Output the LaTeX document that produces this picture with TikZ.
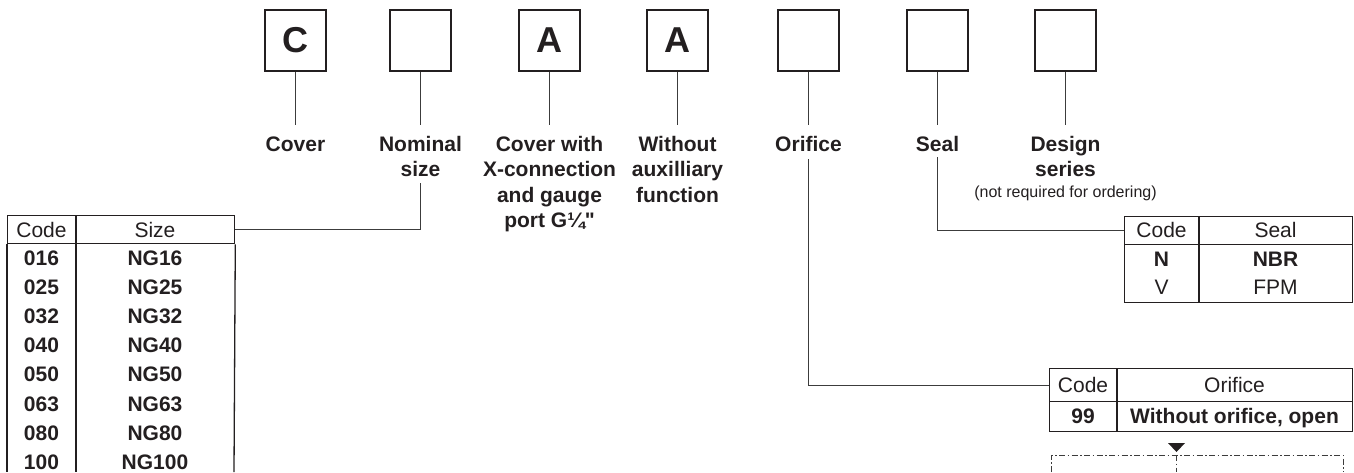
\documentclass[tikz,border=0pt]{standalone}
\usepackage{fontspec}
\setmainfont{Liberation Sans}[Ligatures=TeXOff]
\definecolor{ink}{HTML}{231F20}
\definecolor{wire}{HTML}{3C3C3C}
\begin{document}
\begin{tikzpicture}[x=1pt,y=-1pt,
  codebox/.style={draw=ink, line width=1.5pt, minimum width=61pt, minimum height=61pt, inner sep=0pt, text=ink, font=\fontsize{36}{36}\selectfont\bfseries},
  lbl/.style={font=\fontsize{21}{25.5}\selectfont\bfseries, align=center, anchor=north, inner sep=0pt, text=ink},
  note/.style={font=\fontsize{16}{18}\selectfont, anchor=base, inner sep=0pt, text=ink},
  conn/.style={draw=wire, line width=1.3pt},
  tabline/.style={draw=ink, line width=1.3pt},
  hdr/.style={draw=ink, line width=1.3pt, anchor=north west, inner sep=0pt},
  cell/.style={font=\fontsize{21}{25}\selectfont, inner sep=0pt, anchor=base, text=ink},
  bcell/.style={cell, font=\fontsize{21}{25}\selectfont\bfseries},
  dd/.style={draw=wire, line width=1pt, dash pattern=on 6pt off 2.5pt on 1.5pt off 2.5pt}]
\useasboundingbox (0,0) rectangle (1354,472);

% code boxes
\node[codebox] (b1) at (295.5,40.5) {C};
\node[codebox] (b2) at (420.5,40.5) {};
\node[codebox] (b3) at (549.5,40.5) {A};
\node[codebox] (b4) at (677.5,40.5) {A};
\node[codebox] (b5) at (808.5,40.5) {};
\node[codebox] (b6) at (937.5,40.5) {};
\node[codebox] (b7) at (1065.5,40.5) {};

% labels (top = first baseline 151 minus strut height 17.85)
\node[lbl] (l1) at (295.5,133.15) {\strut Cover};
\node[lbl] (l2) at (420.5,133.15) {\strut Nominal\\size};
\node[lbl] (l3) at (549.5,133.15) {\strut Cover with\\X-connection\\and gauge\\port G¼"};
\node[lbl] (l4) at (677.5,133.15) {\strut Without\\auxilliary\\function};
\node[lbl] (l5) at (808.5,133.15) {\strut Orifice};
\node[lbl] (l6) at (937.5,133.15) {\strut Seal};
\node[lbl] (l7) at (1065.5,133.15) {\strut Design\\series};
\node[note] (l7n) at (1065.5,197) {(not required for ordering)};

% short connectors box -> label
\foreach \i/\x in {1/295.5,2/420.5,3/549.5,4/677.5,5/808.5,6/937.5,7/1065.5}{
  \coordinate (t\i) at (\x,125);
  \draw[conn] (b\i.south) -- (t\i);
}

% size table
\node[hdr, minimum width=227pt, minimum height=28pt] (sizehd) at (7,215) {};
\draw[tabline] (sizehd.south west) -- (7,472);
\draw[tabline] (sizehd.south east) -- (234,472);
\draw[tabline] (76,215) -- (76,472);
\node[cell] (sc0) at (41.5,237) {Code};
\node[cell] (ss0) at (155,237) {Size};
\foreach \k/\c/\s in {0/016/NG16,1/025/NG25,2/032/NG32,3/040/NG40,4/050/NG50,5/063/NG63,6/080/NG80,7/100/NG100}{
  \node[bcell] (sc\c) at (41.5,265.5+29.1*\k) {\c};
  \node[bcell] (ss\c) at (155,265.5+29.1*\k) {\s};
}

% seal table
\node[hdr, minimum width=228pt, minimum height=28pt] (sealhd) at (1124,216) {};
\node[hdr, minimum width=228pt, minimum height=86pt] (sealtab) at (1124,216) {};
\draw[tabline] (1199,216) -- (1199,302);
\node[cell] (ec0) at (1161.5,237.5) {Code};
\node[cell] (es0) at (1275.5,237.5) {Seal};
\node[bcell] (ec1) at (1161.5,266.5) {N};
\node[bcell] (es1) at (1275.5,266.5) {NBR};
\node[cell] (ec2) at (1161.5,294.5) {V};
\node[cell] (es2) at (1275.5,294.5) {FPM};

% orifice table
\node[hdr, minimum width=303pt, minimum height=33pt] (orihd) at (1049,368) {};
\node[hdr, minimum width=303pt, minimum height=63pt] (oritab) at (1049,368) {};
\draw[tabline] (1117,368) -- (1117,431);
\node[cell] (oc0) at (1083,392) {Code};
\node[cell] (os0) at (1234.5,392) {Orifice};
\node[bcell] (oc1) at (1083,423.5) {99};
\node[bcell] (os1) at (1234.5,423.5) {Without orifice, open};

% long connectors
\coordinate (n2) at (420.5,183);
\draw[conn] (n2) |- (sizehd.east);
\coordinate (n5) at (808.5,159);
\draw[conn] (n5) |- (orihd.west);
\coordinate (n6) at (937.5,157);
\draw[conn] (n6) |- (sealhd.west);

% dash-dot box below orifice table
\coordinate (dl) at (1051,472);
\coordinate (dr) at (1343,472);
\coordinate (dm) at (1176.5,472);
\draw[dd] (dl) -- (1051,455) -- (1343,455) -- (dr);
\draw[dd] (1176.5,455) -- (dm);
\fill[ink] (1168,443) -- (1185,443) -- (1176.5,452) -- cycle;
\end{tikzpicture}
\end{document}
